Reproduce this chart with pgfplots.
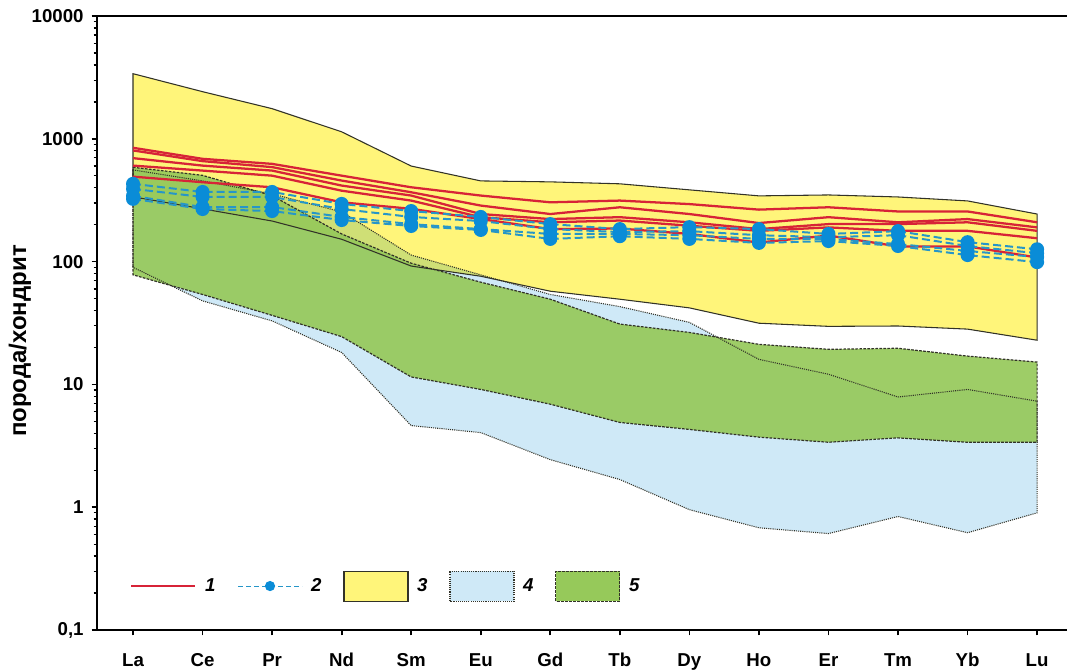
\documentclass[border=0pt]{standalone}
\usepackage{fontspec}
\setmainfont{Liberation Sans}
\usepackage{pgfplots}
\pgfplotsset{compat=1.18}

\definecolor{fyellow}{RGB}{255,245,122}
\definecolor{fblue}{RGB}{207,233,247}
\definecolor{fgreen}{RGB}{150,201,90}
\definecolor{lred}{RGB}{215,35,55}
\definecolor{lblue}{RGB}{38,150,200}
\definecolor{mblue}{RGB}{10,140,215}
\definecolor{edge}{RGB}{50,50,40}

\pgfplotsset{
  rectlegend/.style={legend image code/.code={\draw[##1] (0pt,-11.25pt) rectangle (48pt,11.25pt);}},
  linelegend/.style={legend image code/.code={\draw[##1] (0pt,0pt) -- (48pt,0pt);}},
  marklegend/.style={legend image code/.code={\draw[mark repeat=2, mark phase=2, ##1] plot coordinates {(0pt,0pt) (24pt,0pt) (48pt,0pt)};}},
  redline/.style={lred, line width=1.7pt, mark=none},
  blueline/.style={lblue, line width=1.5pt, dash pattern=on 6pt off 3pt, mark=*, mark size=4.5pt, mark options={solid, fill=mblue, draw=mblue}},
}

\begin{document}
\begin{tikzpicture}
\begin{axis}[
  at={(72.75pt,29.25pt)}, anchor=south west,
  scale only axis, width=727.5pt, height=460.5pt,
  ymode=log, ymin=0.1, ymax=10000,
  xmin=-0.518, xmax=13.43,
  axis x line*=box, axis y line*=left,
  axis line style={line width=1.8pt},
  xtick={0,1,2,3,4,5,6,7,8,9,10,11,12,13},
  xticklabels={La,Ce,Pr,Nd,Sm,Eu,Gd,Tb,Dy,Ho,Er,Tm,Yb,Lu},
  ytick={0.1,1,10,100,1000,10000},
  yticklabels={{0,1},1,10,100,1000,10000},
  xtick pos=bottom, ytick pos=left,
  tick align=outside,
  major tick length=4pt, minor tick length=2.5pt,
  every tick/.style={black, line width=1.3pt},
  every minor tick/.append style={line width=1pt},
  tick label style={font=\bfseries\fontsize{14}{16}\selectfont},
  xticklabel style={yshift=-10pt},
  yticklabel style={xshift=-2.5pt},
  legend style={at={(axis cs:-0.043,0.228)}, anchor=west, draw=none, fill=none,
    inner sep=0pt, font=\bfseries\itshape\fontsize{14}{16}\selectfont,
    /tikz/every odd column/.append style={column sep=4.5pt},
    /tikz/every even column/.append style={column sep=14.4pt}},
  legend columns=5,
]
% legend
\addlegendimage{redline, linelegend}
\addlegendentry{1}
\addlegendimage{lblue, line width=0.8pt, dash pattern=on 4pt off 2pt, mark=*, mark size=3.4pt, mark options={solid, fill=mblue, draw=mblue}, marklegend}
\addlegendentry{2}
\addlegendimage{rectlegend, fill=fyellow, draw=edge, line width=0.8pt}
\addlegendentry{3}
\addlegendimage{rectlegend, fill=fblue, draw=edge, line width=0.8pt, dash pattern=on 0.8pt off 0.8pt}
\addlegendentry{4}
\addlegendimage{rectlegend, fill=fgreen, draw=edge, line width=0.8pt, dash pattern=on 2pt off 1pt}
\addlegendentry{5}

% field 3 (yellow)
\addplot[forget plot, draw=none, fill=fyellow] coordinates {
 (0,3390)(1,2420)(2,1760)(3,1140)(4,600)(5,454)(6,446)(7,430)(8,384)(9,343)(10,349)(11,336)(12,312)(13,244)
 (13,22.9)(12,28.2)(11,29.9)(10,29.7)(9,31.5)(8,42)(7,49.4)(6,57.4)(5,76)(4,92)(3,152)(2,214)(1,269)(0,337)} -- cycle;
% field 4 (blue)
\addplot[forget plot, draw=none, fill=fblue, blend mode=multiply] coordinates {
 (0,558)(1,454)(2,356)(3,254)(4,113)(5,78)(6,54)(7,43)(8,32)(9,16)(10,12.1)(11,7.9)(12,9.1)(13,7.3)
 (13,0.90)(12,0.62)(11,0.84)(10,0.61)(9,0.68)(8,0.955)(7,1.68)(6,2.44)(5,4.05)(4,4.62)(3,18.2)(2,32.9)(1,47.9)(0,89.8)} -- cycle;
% field 5 (green)
\addplot[forget plot, draw=none, fill=fgreen, fill opacity=0.92] coordinates {
 (0,586)(1,504)(2,344)(3,168)(4,97)(5,68)(6,49.4)(7,31)(8,26.5)(9,21.2)(10,19.3)(11,19.7)(12,17)(13,15.2)
 (13,3.38)(12,3.38)(11,3.67)(10,3.38)(9,3.72)(8,4.3)(7,4.9)(6,6.9)(5,9.1)(4,11.5)(3,24.5)(2,36.5)(1,54)(0,78)} -- cycle;
% borders
\addplot[forget plot, draw=edge, line width=0.8pt] coordinates {
 (0,3390)(1,2420)(2,1760)(3,1140)(4,600)(5,454)(6,446)(7,430)(8,384)(9,343)(10,349)(11,336)(12,312)(13,244)
 (13,22.9)(12,28.2)(11,29.9)(10,29.7)(9,31.5)(8,42)(7,49.4)(6,57.4)(5,76)(4,92)(3,152)(2,214)(1,269)(0,337)} -- cycle;
\addplot[forget plot, draw=edge, line width=0.8pt, dash pattern=on 0.8pt off 0.8pt] coordinates {
 (0,558)(1,454)(2,356)(3,254)(4,113)(5,78)(6,54)(7,43)(8,32)(9,16)(10,12.1)(11,7.9)(12,9.1)(13,7.3)
 (13,0.90)(12,0.62)(11,0.84)(10,0.61)(9,0.68)(8,0.955)(7,1.68)(6,2.44)(5,4.05)(4,4.62)(3,18.2)(2,32.9)(1,47.9)(0,89.8)} -- cycle;
\addplot[forget plot, draw=edge, line width=0.9pt, dash pattern=on 2pt off 1pt] coordinates {
 (0,586)(1,504)(2,344)(3,168)(4,97)(5,68)(6,49.4)(7,31)(8,26.5)(9,21.2)(10,19.3)(11,19.7)(12,17)(13,15.2)
 (13,3.38)(12,3.38)(11,3.67)(10,3.38)(9,3.72)(8,4.3)(7,4.9)(6,6.9)(5,9.1)(4,11.5)(3,24.5)(2,36.5)(1,54)(0,78)} -- cycle;

% series 1 (red)
\addplot[forget plot, redline] coordinates {(0,845)(1,687)(2,625)(3,501)(4,403)(5,345)(6,304)(7,314)(8,294)(9,265)(10,277)(11,256)(12,256)(13,209)};
\addplot[forget plot, redline] coordinates {(0,804)(1,658)(2,588)(3,457)(4,367)(5,286)(6,244)(7,277)(8,244)(9,206)(10,230)(11,209)(12,222)(13,190)};
\addplot[forget plot, redline] coordinates {(0,696)(1,605)(2,551)(3,416)(4,345)(5,244)(6,222)(7,230)(8,209)(9,184)(10,202)(11,202)(12,209)(13,178)};
\addplot[forget plot, redline] coordinates {(0,605)(1,551)(2,501)(3,378)(4,314)(5,230)(6,209)(7,216)(8,196)(9,178)(10,190)(11,178)(12,178)(13,155)};
\addplot[forget plot, redline] coordinates {(0,492)(1,443)(2,403)(3,304)(4,269)(5,222)(6,184)(7,186)(8,168)(9,143)(10,163)(11,133)(12,133)(13,108)};

% series 2 (blue)
\addplot[forget plot, blueline] coordinates {(0,430)(1,369)(2,369)(3,295)(4,258)(5,231)(6,202)(7,184)(8,191)(9,184)(10,168)(11,177)(12,144)(13,126)};
\addplot[forget plot, blueline] coordinates {(0,391)(1,336)(2,336)(3,268)(4,231)(5,214)(6,184)(7,174)(8,177)(9,164)(10,158)(11,164)(12,134)(13,117)};
\addplot[forget plot, blueline] coordinates {(0,343)(1,278)(2,278)(3,231)(4,202)(5,184)(6,168)(7,168)(8,164)(9,153)(10,153)(11,139)(12,122)(13,109)};
\addplot[forget plot, blueline] coordinates {(0,324)(1,268)(2,258)(3,218)(4,195)(5,181)(6,153)(7,161)(8,153)(9,142)(10,147)(11,134)(12,113)(13,99)};
\end{axis}
\node[rotate=90, font=\bfseries\fontsize{18}{20}\selectfont] at (15pt,246pt) {порода/хондрит};
\pgfresetboundingbox
\path[use as bounding box] (0pt,0pt) rectangle (800.25pt,501.75pt);
\end{tikzpicture}
\end{document}
